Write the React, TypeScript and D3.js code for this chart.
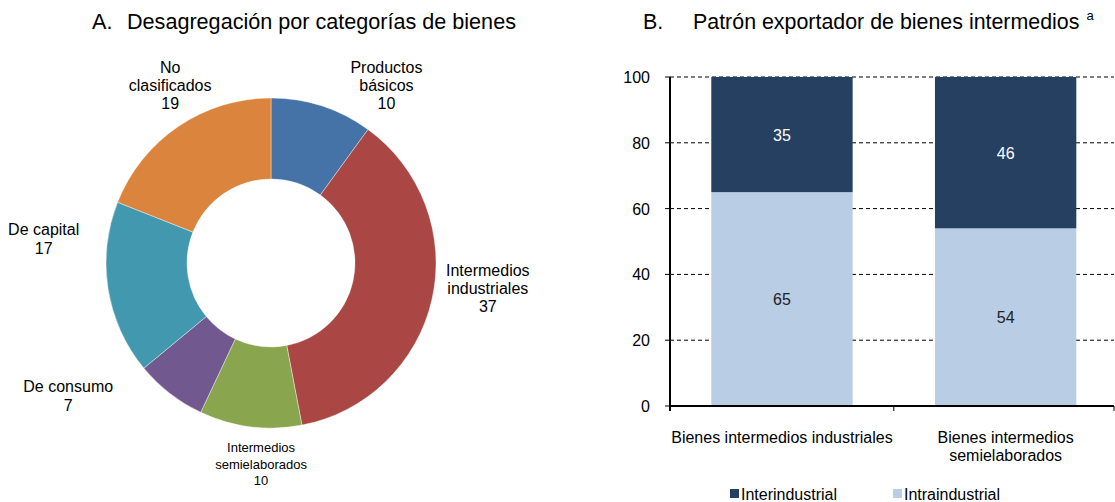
import React, { useEffect, useRef } from 'react';
import * as d3 from 'd3';

// panel A: share of exports by category of goods (clockwise from top)
const categoryLabels = [
  ['Productos', 'básicos'],
  ['Intermedios', 'industriales'],
  ['Intermedios', 'semielaborados'],
  ['De consumo'],
  ['De capital'],
  ['No', 'clasificados'],
];
const categoryValues = [10, 37, 10, 7, 17, 19];
const categoryColors = ['#4572a7', '#aa4643', '#89a54e', '#71588f', '#4198af', '#db843d'];

// panel B: export pattern of intermediate goods
const goods = ['Bienes intermedios industriales', 'Bienes intermedios semielaborados'];
const goodsLines = [['Bienes intermedios industriales'], ['Bienes intermedios', 'semielaborados']];
const intraValues = [65, 54];
const interValues = [35, 46];
const yTicks = [0, 20, 40, 60, 80, 100];
const seriesNames = ['Interindustrial', 'Intraindustrial'];
const seriesColors = ['#254061', '#b9cde5'];

const FONT = 'Arial, "Liberation Sans", sans-serif';

export default function App() {
  const ref = useRef<SVGSVGElement>(null);

  useEffect(() => {
    const svg = d3.select(ref.current);
    svg.selectAll('*').remove();
    svg.attr('font-family', FONT);

    // ---------- titles
    const titleA = svg.append('text').attr('y', 29).attr('font-size', 21.6).attr('fill', '#000');
    titleA.append('tspan').attr('x', 92).text('A.');
    titleA.append('tspan').attr('x', 127).text('Desagregación por categorías de bienes');

    const titleB = svg.append('text').attr('y', 29).attr('font-size', 21.4).attr('fill', '#000');
    titleB.append('tspan').attr('x', 643).text('B.');
    titleB.append('tspan').attr('x', 693).text('Patrón exportador de bienes intermedios');
    titleB.append('tspan').attr('dx', 7).attr('dy', -9).attr('font-size', 13).text('a');

    // ---------- panel A: donut
    const cx = 271, cy = 263, outerR = 165, innerR = 84;
    const pie = d3.pie<number>().sort(null).value(d => d);
    const arcs = pie(categoryValues);
    const arc = d3.arc<d3.PieArcDatum<number>>().innerRadius(innerR).outerRadius(outerR);
    const labelArc = d3.arc<d3.PieArcDatum<number>>().innerRadius(215).outerRadius(215);

    const gA = svg.append('g').attr('transform', `translate(${cx},${cy})`);
    gA.selectAll('path')
      .data(arcs)
      .join('path')
      .attr('d', arc)
      .attr('fill', (_, i) => categoryColors[i])
      .attr('stroke', '#fff')
      .attr('stroke-width', 0.4);

    // label nudges relative to the label-arc centroid
    const nudges = [[49, 27], [7, -22], [17, -12], [-71, -37], [-15, -58], [20, 0]];
    const labelSizes = [16, 16, 13, 16, 16, 16];
    const lineHeights = [18, 18, 16.5, 18.5, 18.5, 18];

    arcs.forEach((a, i) => {
      const [lx, ly] = labelArc.centroid(a);
      const lines = [...categoryLabels[i], String(categoryValues[i])];
      const size = labelSizes[i];
      const lh = lineHeights[i];
      const t = gA.append('text')
        .attr('text-anchor', 'middle')
        .attr('font-size', size)
        .attr('fill', '#000');
      lines.forEach((line, j) => {
        t.append('tspan')
          .attr('x', lx + nudges[i][0])
          .attr('y', ly + nudges[i][1] + (j - (lines.length - 1) / 2) * lh + size * 0.36)
          .text(line);
      });
    });

    // ---------- panel B: stacked bars
    const left = 670, right = 1114, top = 77, bottom = 406;
    const x = d3.scaleBand<string>().domain(goods).range([left, 1117.6]).paddingInner(0.368).paddingOuter(0.1846);
    const y = d3.scaleLinear().domain([0, 100]).range([bottom, top]);

    const gB = svg.append('g');

    // dashed gridlines
    gB.append('g')
      .selectAll('line')
      .data(yTicks.filter(d => d > 0))
      .join('line')
      .attr('x1', left)
      .attr('x2', right)
      .attr('y1', d => y(d))
      .attr('y2', d => y(d))
      .attr('stroke', '#000')
      .attr('stroke-width', 1)
      .attr('stroke-dasharray', '4,3');

    const stacked = goods.map((g, i) => ({ g, intra: intraValues[i], inter: interValues[i] }));

    const bars = gB.append('g').selectAll('g').data(stacked).join('g');
    bars.append('rect')
      .attr('x', d => x(d.g)!)
      .attr('width', x.bandwidth())
      .attr('y', d => y(d.intra))
      .attr('height', d => y(0) - y(d.intra))
      .attr('fill', seriesColors[1]);
    bars.append('rect')
      .attr('x', d => x(d.g)!)
      .attr('width', x.bandwidth())
      .attr('y', d => y(d.intra + d.inter))
      .attr('height', d => y(d.intra) - y(d.intra + d.inter))
      .attr('fill', seriesColors[0]);

    bars.append('text')
      .attr('x', d => x(d.g)! + x.bandwidth() / 2)
      .attr('y', d => y(d.intra / 2) + 6)
      .attr('text-anchor', 'middle')
      .attr('font-size', 16)
      .attr('fill', '#222')
      .text(d => d.intra);
    bars.append('text')
      .attr('x', d => x(d.g)! + x.bandwidth() / 2)
      .attr('y', d => y(d.intra + d.inter / 2) + 6)
      .attr('text-anchor', 'middle')
      .attr('font-size', 16)
      .attr('fill', '#fff')
      .text(d => d.inter);

    // y axis
    const yAxis = gB.append('g');
    yAxis.append('line')
      .attr('x1', left).attr('x2', left)
      .attr('y1', top).attr('y2', bottom + 5)
      .attr('stroke', '#000').attr('stroke-width', 2);
    yAxis.selectAll('line.tick')
      .data(yTicks)
      .join('line')
      .attr('class', 'tick')
      .attr('x1', left - 5).attr('x2', left)
      .attr('y1', d => y(d)).attr('y2', d => y(d))
      .attr('stroke', '#000');
    yAxis.selectAll('text')
      .data(yTicks)
      .join('text')
      .attr('x', 650)
      .attr('y', d => y(d) + 6)
      .attr('text-anchor', 'end')
      .attr('font-size', 16)
      .attr('fill', '#000')
      .text(d => d);

    // x axis
    const xAxis = gB.append('g');
    xAxis.append('line')
      .attr('x1', left).attr('x2', right)
      .attr('y1', bottom).attr('y2', bottom)
      .attr('stroke', '#000').attr('stroke-width', 2);
    const bounds = [left, (x(goods[0])! + x.bandwidth() + x(goods[1])!) / 2, right];
    xAxis.selectAll('line.tick')
      .data(bounds)
      .join('line')
      .attr('class', 'tick')
      .attr('x1', d => d).attr('x2', d => d)
      .attr('y1', bottom).attr('y2', bottom + 5)
      .attr('stroke', '#000');

    goodsLines.forEach((lines, i) => {
      const t = xAxis.append('text')
        .attr('text-anchor', 'middle')
        .attr('font-size', 16)
        .attr('fill', '#000');
      lines.forEach((line, j) => {
        t.append('tspan')
          .attr('x', x(goods[i])! + x.bandwidth() / 2)
          .attr('y', 443 + j * 18)
          .text(line);
      });
    });

    // legend
    const legendX = [730, 893];
    const legend = svg.append('g');
    seriesNames.forEach((name, i) => {
      legend.append('rect')
        .attr('x', legendX[i]).attr('y', 489)
        .attr('width', 9).attr('height', 9)
        .attr('fill', seriesColors[i]);
      legend.append('text')
        .attr('x', legendX[i] + 11).attr('y', 500)
        .attr('font-size', 16)
        .attr('fill', '#000')
        .text(name);
    });
  }, []);

  return (
    <div style={{ position: 'fixed', left: 0, top: 0 }}>
      <svg ref={ref} width={1115} height={502} style={{ display: 'block', background: '#fff' }} />
    </div>
  );
}
